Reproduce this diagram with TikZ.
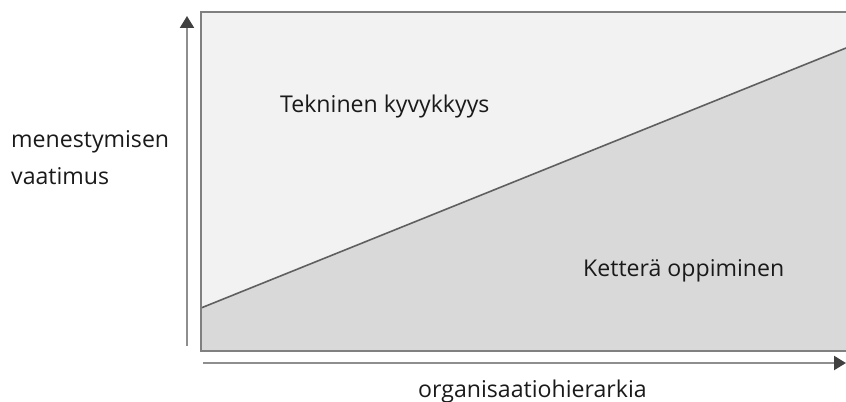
\documentclass[tikz,border=0pt]{standalone}
\usepackage{fontspec}
\setmainfont{Open Sans}
\usetikzlibrary{arrows.meta}
\definecolor{upperfill}{HTML}{F2F2F2}
\definecolor{lowerfill}{HTML}{D9D9D9}
\definecolor{frame}{HTML}{808080}
\definecolor{divider}{HTML}{5F5F5F}
\definecolor{axisline}{HTML}{8E8E8E}
\definecolor{tipgrey}{HTML}{404040}
\definecolor{textgrey}{HTML}{1A1A1A}
\tikzset{
  label text/.style={inner sep=0pt, text=textgrey, font=\fontsize{23.2}{37}\selectfont, align=left},
  axis arrow/.style={draw=axisline, line width=2.2pt, -{Triangle[length=12pt,width=14pt,color=tipgrey]}},
  frame line/.style={draw=frame, line width=2pt},
}
\begin{document}
\begin{tikzpicture}[x=1bp,y=-1bp]
\useasboundingbox (0,0) rectangle (846,401);
% chart area: two regions split by the rising line
\coordinate (tl) at (201,12);
\coordinate (tr) at (846,12);
\coordinate (bl) at (201,351);
\coordinate (br) at (846,351);
\coordinate (ls) at (201,308);
\coordinate (le) at (846,48);
\fill[upperfill] (tl) rectangle (br);
\fill[lowerfill] (ls) -- (le) -- (br) -- (bl) -- cycle;
\draw[divider, line width=1.6pt] (ls) -- (le);
\draw[frame line] (tr) -- (tl) -- (bl) -- (br);
% axes
\coordinate (ya) at (187,346);
\coordinate (yb) at (187,16);
\coordinate (xa) at (203,363);
\coordinate (xb) at (846,363);
\draw[axis arrow] (ya) -- (yb);
\draw[axis arrow] (xa) -- (xb);
% labels
\node[label text, anchor=base west] (tek) at (280,112) {Tekninen kyvykkyys};
\node[label text, anchor=base west] (ket) at (583,276) {Ketterä oppiminen};
\node[label text, anchor=base west] (men) at (11,147) {menestymisen};
\node[label text, anchor=base west] (vaa) at (11,184) {vaatimus};
\node[label text, anchor=base west] (org) at (418,397) {organisaatiohierarkia};
\end{tikzpicture}
\end{document}
